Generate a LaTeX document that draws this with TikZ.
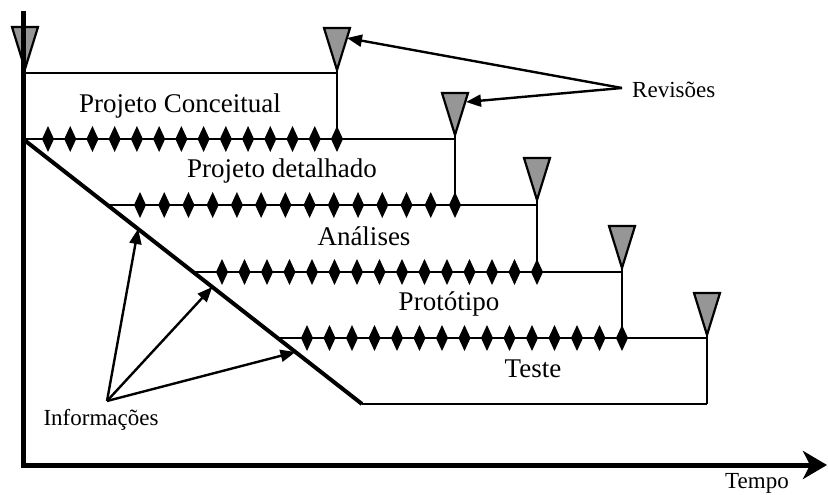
\documentclass[tikz,border=0pt]{standalone}
\usepackage{fontspec}
\setmainfont{Liberation Serif}
\usetikzlibrary{arrows.meta}
\definecolor{trigray}{RGB}{150,150,150}
\begin{document}
\begin{tikzpicture}[x=1pt,y=-1pt,
  rowline/.style={line width=2.4pt},
  axisline/.style={line width=5pt,line join=miter},
  diagline/.style={line width=4pt},
  revtri/.style={fill=trigray,draw=black,line width=2.2pt,line join=miter},
  dmd/.style={fill=black},
  biglabel/.style={font=\fontsize{27}{30}\selectfont,anchor=base,inner sep=0pt},
  smalllabel/.style={font=\fontsize{23}{26}\selectfont,inner sep=0pt},
  pointer/.style={line width=2.4pt,-{Triangle[length=15pt,width=12pt]}},
]
\useasboundingbox (0,0) rectangle (828,495);

% named points
\coordinate (d0) at (23,139);
\coordinate (d1) at (362,404);
\coordinate (t1) at (25,69);
\coordinate (t2) at (337,70);
\coordinate (t3) at (455,135);
\coordinate (t4) at (537,200);
\coordinate (t5) at (622,268);
\coordinate (t6) at (707,335);

% row lines
\draw[rowline] (23,73) -- (337,73);
\draw[rowline] (23,139) -- (455,139);
\draw[rowline] (107.4,205) -- (537,205);
\draw[rowline] (193.1,272) -- (622,272);
\draw[rowline] (277.6,338) -- (707,338);
\draw[rowline] (d1) -- (707,404);

% vertical links from review triangles
\draw[rowline] (t2) -- (337,139);
\draw[rowline] (t3) -- (455,205);
\draw[rowline] (t4) -- (537,272);
\draw[rowline] (t5) -- (622,338);
\draw[rowline] (t6) -- (707,404);

% diamonds
\foreach \i in {0,...,13}
  \fill[dmd] ({48+\i*22.23},126) -- ++(6,13) -- ++(-6,13) -- ++(-6,-13) -- cycle;
\foreach \i in {0,...,13}
  \fill[dmd] ({140+\i*24.23},192) -- ++(6,13) -- ++(-6,13) -- ++(-6,-13) -- cycle;
\foreach \i in {0,...,14}
  \fill[dmd] ({222+\i*22.5},259) -- ++(6,13) -- ++(-6,13) -- ++(-6,-13) -- cycle;
\foreach \i in {0,...,14}
  \fill[dmd] ({307+\i*22.5},325) -- ++(6,13) -- ++(-6,13) -- ++(-6,-13) -- cycle;

% diagonal information line
\draw[diagline] (d0) -- (d1);

% review triangles
\foreach \p in {t1,t2,t3,t4,t5,t6}
  \filldraw[revtri] (\p) -- ++(-13,-42) -- ++(26,0) -- cycle;

% axes
\draw[axisline,-{Stealth[length=24pt,width=28pt,inset=7pt]}] (23,11) -- (23,465) -- (827,465);

% labels
\node[biglabel] (pc) at (180,113) {Projeto Conceitual};
\node[biglabel] (pd) at (282,177) {Projeto detalhado};
\node[biglabel] (an) at (364,245) {Análises};
\node[biglabel] (pt) at (449,310) {Protótipo};
\node[biglabel] (te) at (533,377) {Teste};
\node[smalllabel,anchor=base west] (rev) at (632,98) {Revisões};
\node[smalllabel,anchor=base] (inf) at (101,425) {Informações};
\node[smalllabel,anchor=base west] (tempo) at (725,488) {Tempo};

% pointers
\coordinate (revpt) at (622,88);
\coordinate (infpt) at (107,401);
\coordinate (r2) at (347,38);
\coordinate (r3) at (466,102);
\coordinate (i1) at (138.1,229);
\coordinate (i2) at (212.3,287);
\coordinate (i3) at (295.5,352);
\draw[pointer] (revpt) -- (r2);
\draw[pointer] (revpt) -- (r3);
\draw[pointer] (infpt) -- (i1);
\draw[pointer] (infpt) -- (i2);
\draw[pointer] (infpt) -- (i3);
\end{tikzpicture}
\end{document}
